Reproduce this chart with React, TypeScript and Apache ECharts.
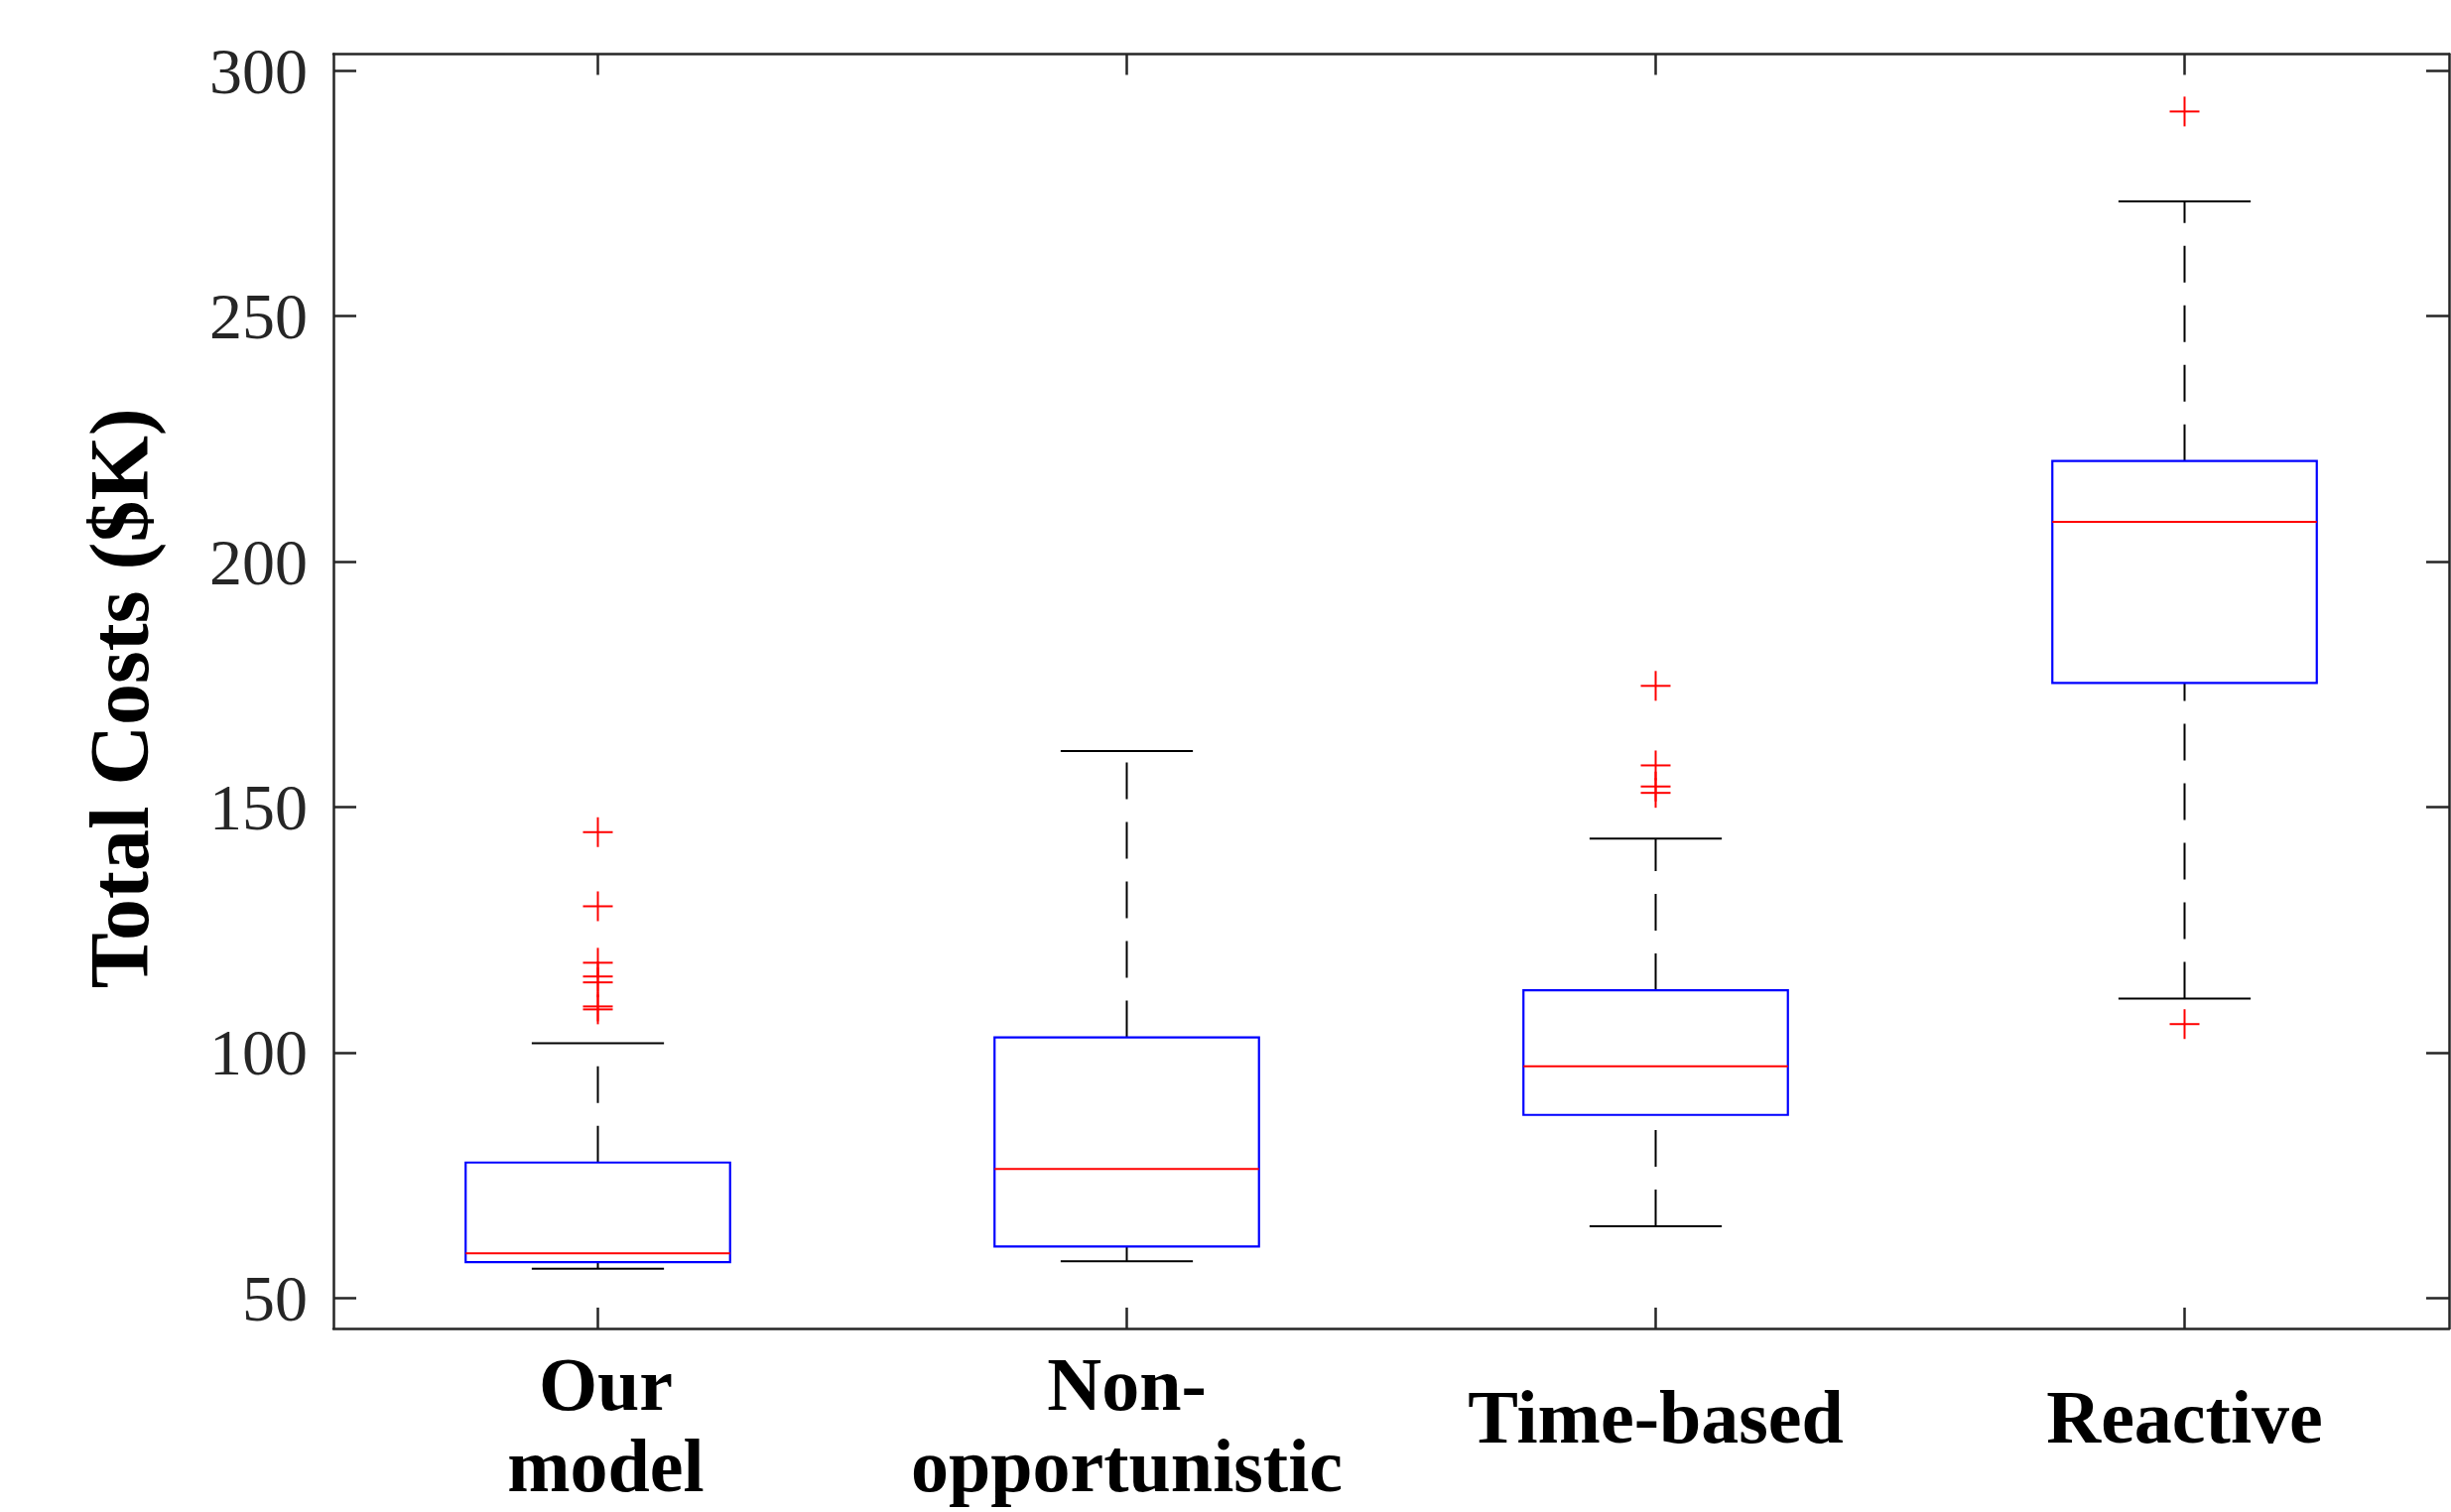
import React, { useEffect, useRef } from "react";
import * as echarts from "echarts";

// ---- Data ----
const categories = ["Our model", "Non-opportunistic", "Time-based", "Reactive"];
const tickLabels = ["Our\nmodel", "Non-\nopportunistic", "Time-based", "Reactive"];
const lowerWhisker = [56.0, 57.5, 64.6, 111.0];
const q1 = [57.3, 60.5, 87.3, 175.3];
const median = [59.1, 76.3, 97.2, 208.1];
const q3 = [77.6, 103.1, 112.7, 220.5];
const upperWhisker = [101.9, 161.4, 143.6, 273.4];
const outliersOurModel = [144.9, 129.8, 118.3, 115.5, 114.3, 109.4, 108.8];
const outliersNonOpportunistic: number[] = [];
const outliersTimeBased = [174.7, 158.5, 154.2, 152.9];
const outliersReactive = [291.7, 105.8];
const yTicks = [50, 100, 150, 200, 250, 300];
const yMin = 43.8;
const yMax = 303.4;
const yAxisTitle = "Total Costs ($K)";

const FONT = '"Liberation Serif", "Times New Roman", serif';
const AXIS_COLOR = "#262626";

export default function App() {
  const ref = useRef<HTMLDivElement | null>(null);

  useEffect(() => {
    if (!ref.current) return;
    const chart = echarts.init(ref.current, null, { renderer: "svg" });

    const boxData = categories.map((_, i) => [
      i,
      lowerWhisker[i],
      q1[i],
      median[i],
      q3[i],
      upperWhisker[i],
    ]);
    const outlierGroups = [
      outliersOurModel,
      outliersNonOpportunistic,
      outliersTimeBased,
      outliersReactive,
    ];
    const outlierData: number[][] = [];
    outlierGroups.forEach((arr, i) => arr.forEach((v) => outlierData.push([i, v])));

    const tickStyle = { color: AXIS_COLOR, width: 2.5 };
    const labelFont = {
      fontFamily: FONT,
      fontWeight: "bold",
      fontSize: 76,
      lineHeight: 82,
      color: "#000000",
    };

    const option: any = {
      animation: false,
      backgroundColor: "#ffffff",
      grid: {
        left: 336,
        top: 54.5,
        right: 2,
        bottom: 185,
        containLabel: false,
        outerBoundsMode: "none",
      },
      xAxis: [
        {
          type: "category",
          data: tickLabels,
          position: "bottom",
          boundaryGap: true,
          axisLine: { show: true, lineStyle: tickStyle },
          axisTick: { show: true, inside: true, alignWithLabel: true, length: 21, lineStyle: tickStyle },
          axisLabel: {
            interval: 0,
            ...labelFont,
            margin: 97,
            verticalAlign: "middle",
            formatter: (value: string, index: number) => {
              if (value.indexOf("\n") < 0) return `{s|${value}}`;
              if (index === 0) return value.split("\n").map((l) => `{o|${l}}`).join("\n");
              return value;
            },
            rich: {
              s: { ...labelFont, padding: [0, 0, 16, 0] },
              o: { ...labelFont, padding: [0, 0, 0, 16] },
            },
          },
          splitLine: { show: false },
        },
        {
          type: "category",
          data: tickLabels,
          position: "top",
          boundaryGap: true,
          axisLine: { show: true, lineStyle: tickStyle },
          axisTick: { show: true, inside: true, alignWithLabel: true, length: 21, lineStyle: tickStyle },
          axisLabel: { show: false },
          splitLine: { show: false },
        },
      ],
      yAxis: [
        {
          type: "value",
          min: yMin,
          max: yMax,
          position: "left",
          axisLine: { show: true, lineStyle: tickStyle },
          axisTick: { show: true, inside: true, length: 23, lineStyle: tickStyle, customValues: yTicks },
          axisLabel: {
            customValues: yTicks,
            fontFamily: FONT,
            fontSize: 66,
            color: AXIS_COLOR,
            margin: 26,
          },
          splitLine: { show: false },
          name: yAxisTitle,
          nameLocation: "middle",
          nameGap: 174,
          nameRotate: 90,
          nameTextStyle: {
            fontFamily: FONT,
            fontWeight: "bold",
            fontSize: 84,
            color: "#000000",
            padding: [0, 14, 0, 0],
          },
        },
        {
          type: "value",
          min: yMin,
          max: yMax,
          position: "right",
          axisLine: { show: true, lineStyle: tickStyle },
          axisTick: { show: true, inside: true, length: 23, lineStyle: tickStyle, customValues: yTicks },
          axisLabel: { show: false },
          splitLine: { show: false },
        },
      ],
      series: [
        {
          type: "custom",
          name: "boxes",
          xAxisIndex: 0,
          yAxisIndex: 0,
          encode: { x: 0, y: [1, 2, 3, 4, 5] },
          data: boxData,
          renderItem: (params: any, api: any) => {
            const idx = api.value(0);
            const lo = api.coord([idx, api.value(1)]);
            const b1 = api.coord([idx, api.value(2)]);
            const med = api.coord([idx, api.value(3)]);
            const b3 = api.coord([idx, api.value(4)]);
            const hi = api.coord([idx, api.value(5)]);
            const band = api.size([1, 0])[0];
            const bw = band * 0.5;
            const cw = bw * 0.5;
            const x = lo[0];
            const dashed = { stroke: "#000000", lineWidth: 2, lineDash: [37, 23], fill: null };
            const solid = { stroke: "#000000", lineWidth: 2, fill: null };
            return {
              type: "group",
              children: [
                { type: "line", shape: { x1: x, y1: b3[1], x2: x, y2: hi[1] }, style: dashed },
                { type: "line", shape: { x1: x, y1: lo[1], x2: x, y2: b1[1] }, style: dashed },
                { type: "line", shape: { x1: x - cw / 2, y1: hi[1], x2: x + cw / 2, y2: hi[1] }, style: solid },
                { type: "line", shape: { x1: x - cw / 2, y1: lo[1], x2: x + cw / 2, y2: lo[1] }, style: solid },
                {
                  type: "rect",
                  shape: { x: x - bw / 2, y: b3[1], width: bw, height: b1[1] - b3[1] },
                  style: { fill: "transparent", stroke: "#0000ff", lineWidth: 2.2 },
                },
                {
                  type: "line",
                  shape: { x1: x - bw / 2, y1: med[1], x2: x + bw / 2, y2: med[1] },
                  style: { stroke: "#ff0000", lineWidth: 2, fill: null },
                },
              ],
            };
          },
        },
        {
          type: "custom",
          name: "outliers",
          xAxisIndex: 0,
          yAxisIndex: 0,
          encode: { x: 0, y: 1 },
          data: outlierData,
          renderItem: (params: any, api: any) => {
            const p = api.coord([api.value(0), api.value(1)]);
            const h = 15;
            const st = { stroke: "#ff0000", lineWidth: 2, fill: null };
            return {
              type: "group",
              children: [
                { type: "line", shape: { x1: p[0] - h, y1: p[1], x2: p[0] + h, y2: p[1] }, style: st },
                { type: "line", shape: { x1: p[0], y1: p[1] - h, x2: p[0], y2: p[1] + h }, style: st },
              ],
            };
          },
        },
      ],
    };

    chart.setOption(option);
    return () => {
      chart.dispose();
    };
  }, []);

  return (
    <div
      ref={ref}
      style={{ position: "fixed", left: 0, top: 0, width: 2470, height: 1524, background: "#ffffff" }}
    />
  );
}
